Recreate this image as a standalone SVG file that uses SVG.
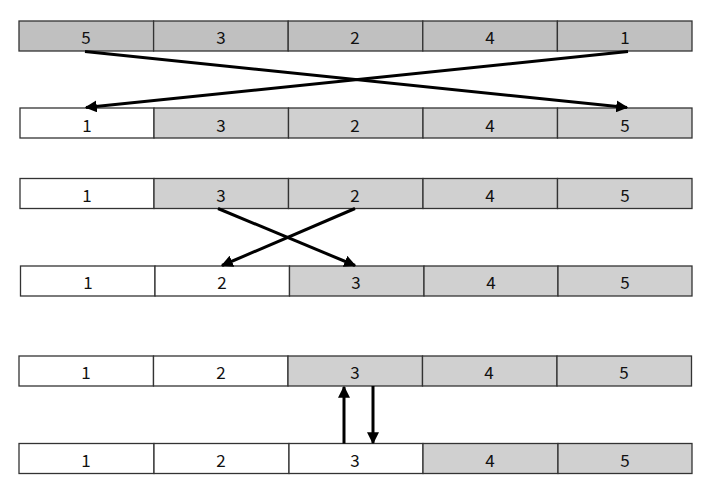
<svg xmlns="http://www.w3.org/2000/svg" width="720" height="504" viewBox="0 0 720 504">
<defs>
<style>
.c{stroke:#333;stroke-width:1.3}
.g1{fill:#c0c0c0}
.g{fill:#d0d0d0}
.w{fill:#fff}
text{font-family:"Noto Sans CJK KR","Noto Sans",sans-serif;font-size:17px;fill:#111;text-anchor:middle;dominant-baseline:central}
.a{stroke:#000;stroke-width:3;fill:none;marker-end:url(#ah)}
</style>
<marker id="ah" viewBox="0 0 10 10" refX="9" refY="5" markerWidth="4" markerHeight="4" orient="auto" markerUnits="strokeWidth">
<path d="M0,0 L10,5 L0,10 z" fill="#000"/>
</marker>
</defs>
<rect width="720" height="504" fill="#fff"/>
<g id="row1">
<rect class="c g1" x="19" y="21" width="134.6" height="30"/>
<rect class="c g1" x="153.6" y="21" width="134.6" height="30"/>
<rect class="c g1" x="288.2" y="21" width="134.6" height="30"/>
<rect class="c g1" x="422.8" y="21" width="134.6" height="30"/>
<rect class="c g1" x="557.4" y="21" width="134.6" height="30"/>
<text x="86" y="36">5</text><text x="221" y="36">3</text><text x="355" y="36">2</text><text x="490" y="36">4</text><text x="625" y="36">1</text>
</g>
<g id="row2">
<rect class="c w" x="20" y="108" width="134" height="30"/>
<rect class="c g" x="154" y="108" width="134.5" height="30"/>
<rect class="c g" x="288.5" y="108" width="134.5" height="30"/>
<rect class="c g" x="423" y="108" width="134.5" height="30"/>
<rect class="c g" x="557.5" y="108" width="134.5" height="30"/>
<text x="87" y="124">1</text><text x="221" y="124">3</text><text x="355" y="124">2</text><text x="490" y="124">4</text><text x="625" y="124">5</text>
</g>
<g id="row3">
<rect class="c w" x="20" y="178.5" width="134" height="30"/>
<rect class="c g" x="154" y="178.5" width="134.5" height="30"/>
<rect class="c g" x="288.5" y="178.5" width="134.5" height="30"/>
<rect class="c g" x="423" y="178.5" width="134.5" height="30"/>
<rect class="c g" x="557.5" y="178.5" width="134.5" height="30"/>
<text x="87" y="194">1</text><text x="221" y="194">3</text><text x="355" y="194">2</text><text x="490" y="194">4</text><text x="625" y="194">5</text>
</g>
<g id="row4">
<rect class="c w" x="20.5" y="266" width="134.5" height="30"/>
<rect class="c w" x="155" y="266" width="134.5" height="30"/>
<rect class="c g" x="289.5" y="266" width="134.5" height="30"/>
<rect class="c g" x="424" y="266" width="134" height="30"/>
<rect class="c g" x="558" y="266" width="134" height="30"/>
<text x="88" y="281">1</text><text x="222" y="281">2</text><text x="356" y="281">3</text><text x="491" y="281">4</text><text x="625" y="281">5</text>
</g>
<g id="row5">
<rect class="c w" x="19" y="356" width="134.5" height="30"/>
<rect class="c w" x="153.5" y="356" width="134.5" height="30"/>
<rect class="c g" x="288" y="356" width="134.5" height="30"/>
<rect class="c g" x="422.5" y="356" width="134.5" height="30"/>
<rect class="c g" x="557" y="356" width="134.5" height="30"/>
<text x="86" y="371">1</text><text x="221" y="371">2</text><text x="355" y="371">3</text><text x="489" y="371">4</text><text x="624" y="371">5</text>
</g>
<g id="row6">
<rect class="c w" x="19" y="443.5" width="135" height="30"/>
<rect class="c w" x="154" y="443.5" width="135" height="30"/>
<rect class="c w" x="289" y="443.5" width="134" height="30"/>
<rect class="c g" x="423" y="443.5" width="135" height="30"/>
<rect class="c g" x="558" y="443.5" width="134" height="30"/>
<text x="86" y="459">1</text><text x="221" y="459">2</text><text x="355" y="459">3</text><text x="490" y="459">4</text><text x="625" y="459">5</text>
</g>
<g id="connectors">
<line class="a" x1="85" y1="51.5" x2="627" y2="107.5"/>
<line class="a" x1="628" y1="51.5" x2="86" y2="107.5"/>
<line class="a" x1="218" y1="208.5" x2="355" y2="265.5"/>
<line class="a" x1="355" y1="208.5" x2="222" y2="265.5"/>
<line class="a" x1="344" y1="443.5" x2="344" y2="387"/>
<line class="a" x1="373" y1="386" x2="373" y2="443"/>
</g>
</svg>
